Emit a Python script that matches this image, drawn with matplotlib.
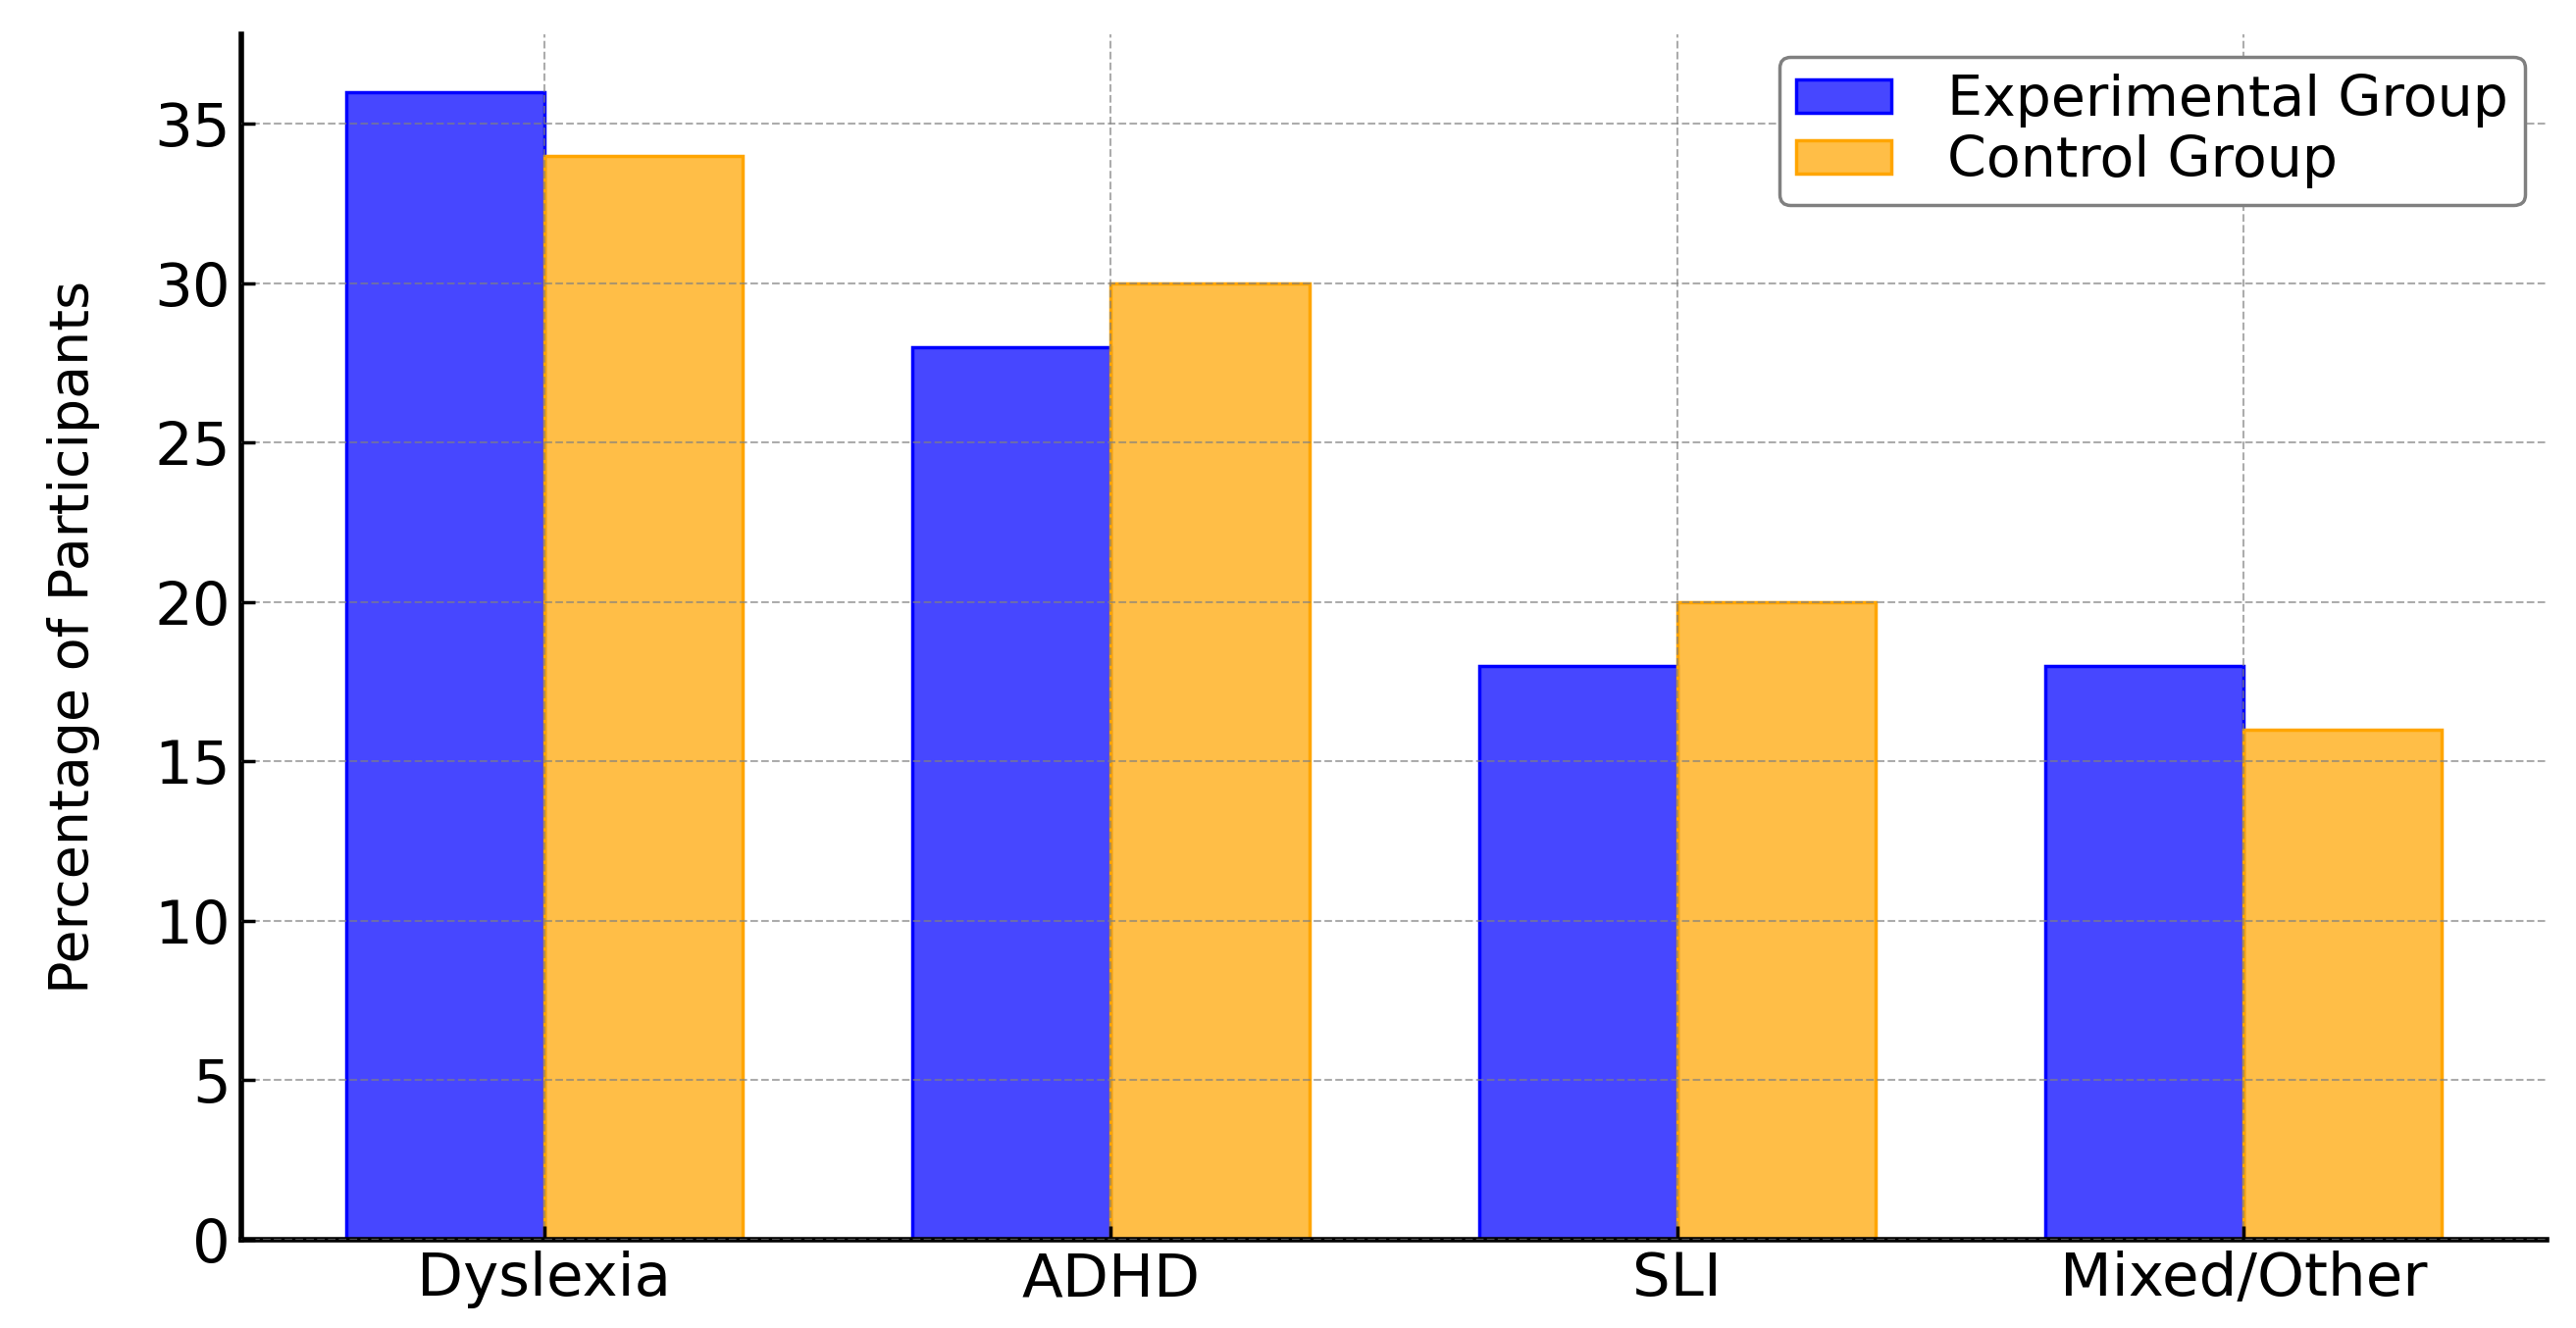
import matplotlib.pyplot as plt
import numpy as np

categories = ["Dyslexia", "ADHD", "SLI", "Mixed/Other"]
experimental = [36, 28, 18, 18]
control = [34, 30, 20, 16]
series_names = ["Experimental Group", "Control Group"]
y_ticks = [0, 5, 10, 15, 20, 25, 30, 35]


def plot_groups(out_path):
    x = np.arange(len(categories))
    width = 0.35

    fig = plt.figure(figsize=(26.26, 13.54), dpi=100)
    ax = fig.add_axes([0.0937, 0.0665, 0.895, 0.9075])

    ax.bar(x - width / 2, experimental, width, label=series_names[0],
           facecolor=(0.0, 0.0, 1.0, 0.72), edgecolor="blue", linewidth=2.5, zorder=2)
    ax.bar(x + width / 2, control, width, label=series_names[1],
           facecolor=(1.0, 0.647, 0.0, 0.72), edgecolor="orange", linewidth=2.5, zorder=2)

    ax.set_xticks(x)
    ax.set_xticklabels(categories)
    ax.set_yticks(y_ticks)
    ax.set_ylabel("Percentage of Participants", fontsize=40, labelpad=40)
    ax.tick_params(axis="both", direction="in", labelsize=44, length=10, width=2.5, pad=8)

    ax.grid(True, linestyle="--", color="gray", alpha=0.65, linewidth=1.5, zorder=3)
    ax.set_axisbelow(False)
    for side in ("top", "right"):
        ax.spines[side].set_visible(False)
    for side in ("left", "bottom"):
        ax.spines[side].set_linewidth(4)

    ax.legend(loc="upper right", fontsize=41, frameon=True, edgecolor="gray",
              framealpha=1.0, handlelength=1.7, handleheight=0.55, borderpad=0.3,
              labelspacing=0.12, handletextpad=1.0, borderaxespad=0.4)
    ax.get_legend().get_frame().set_linewidth(2.5)

    plt.savefig(out_path, dpi=100)
    plt.close()


plot_groups("out.png")
